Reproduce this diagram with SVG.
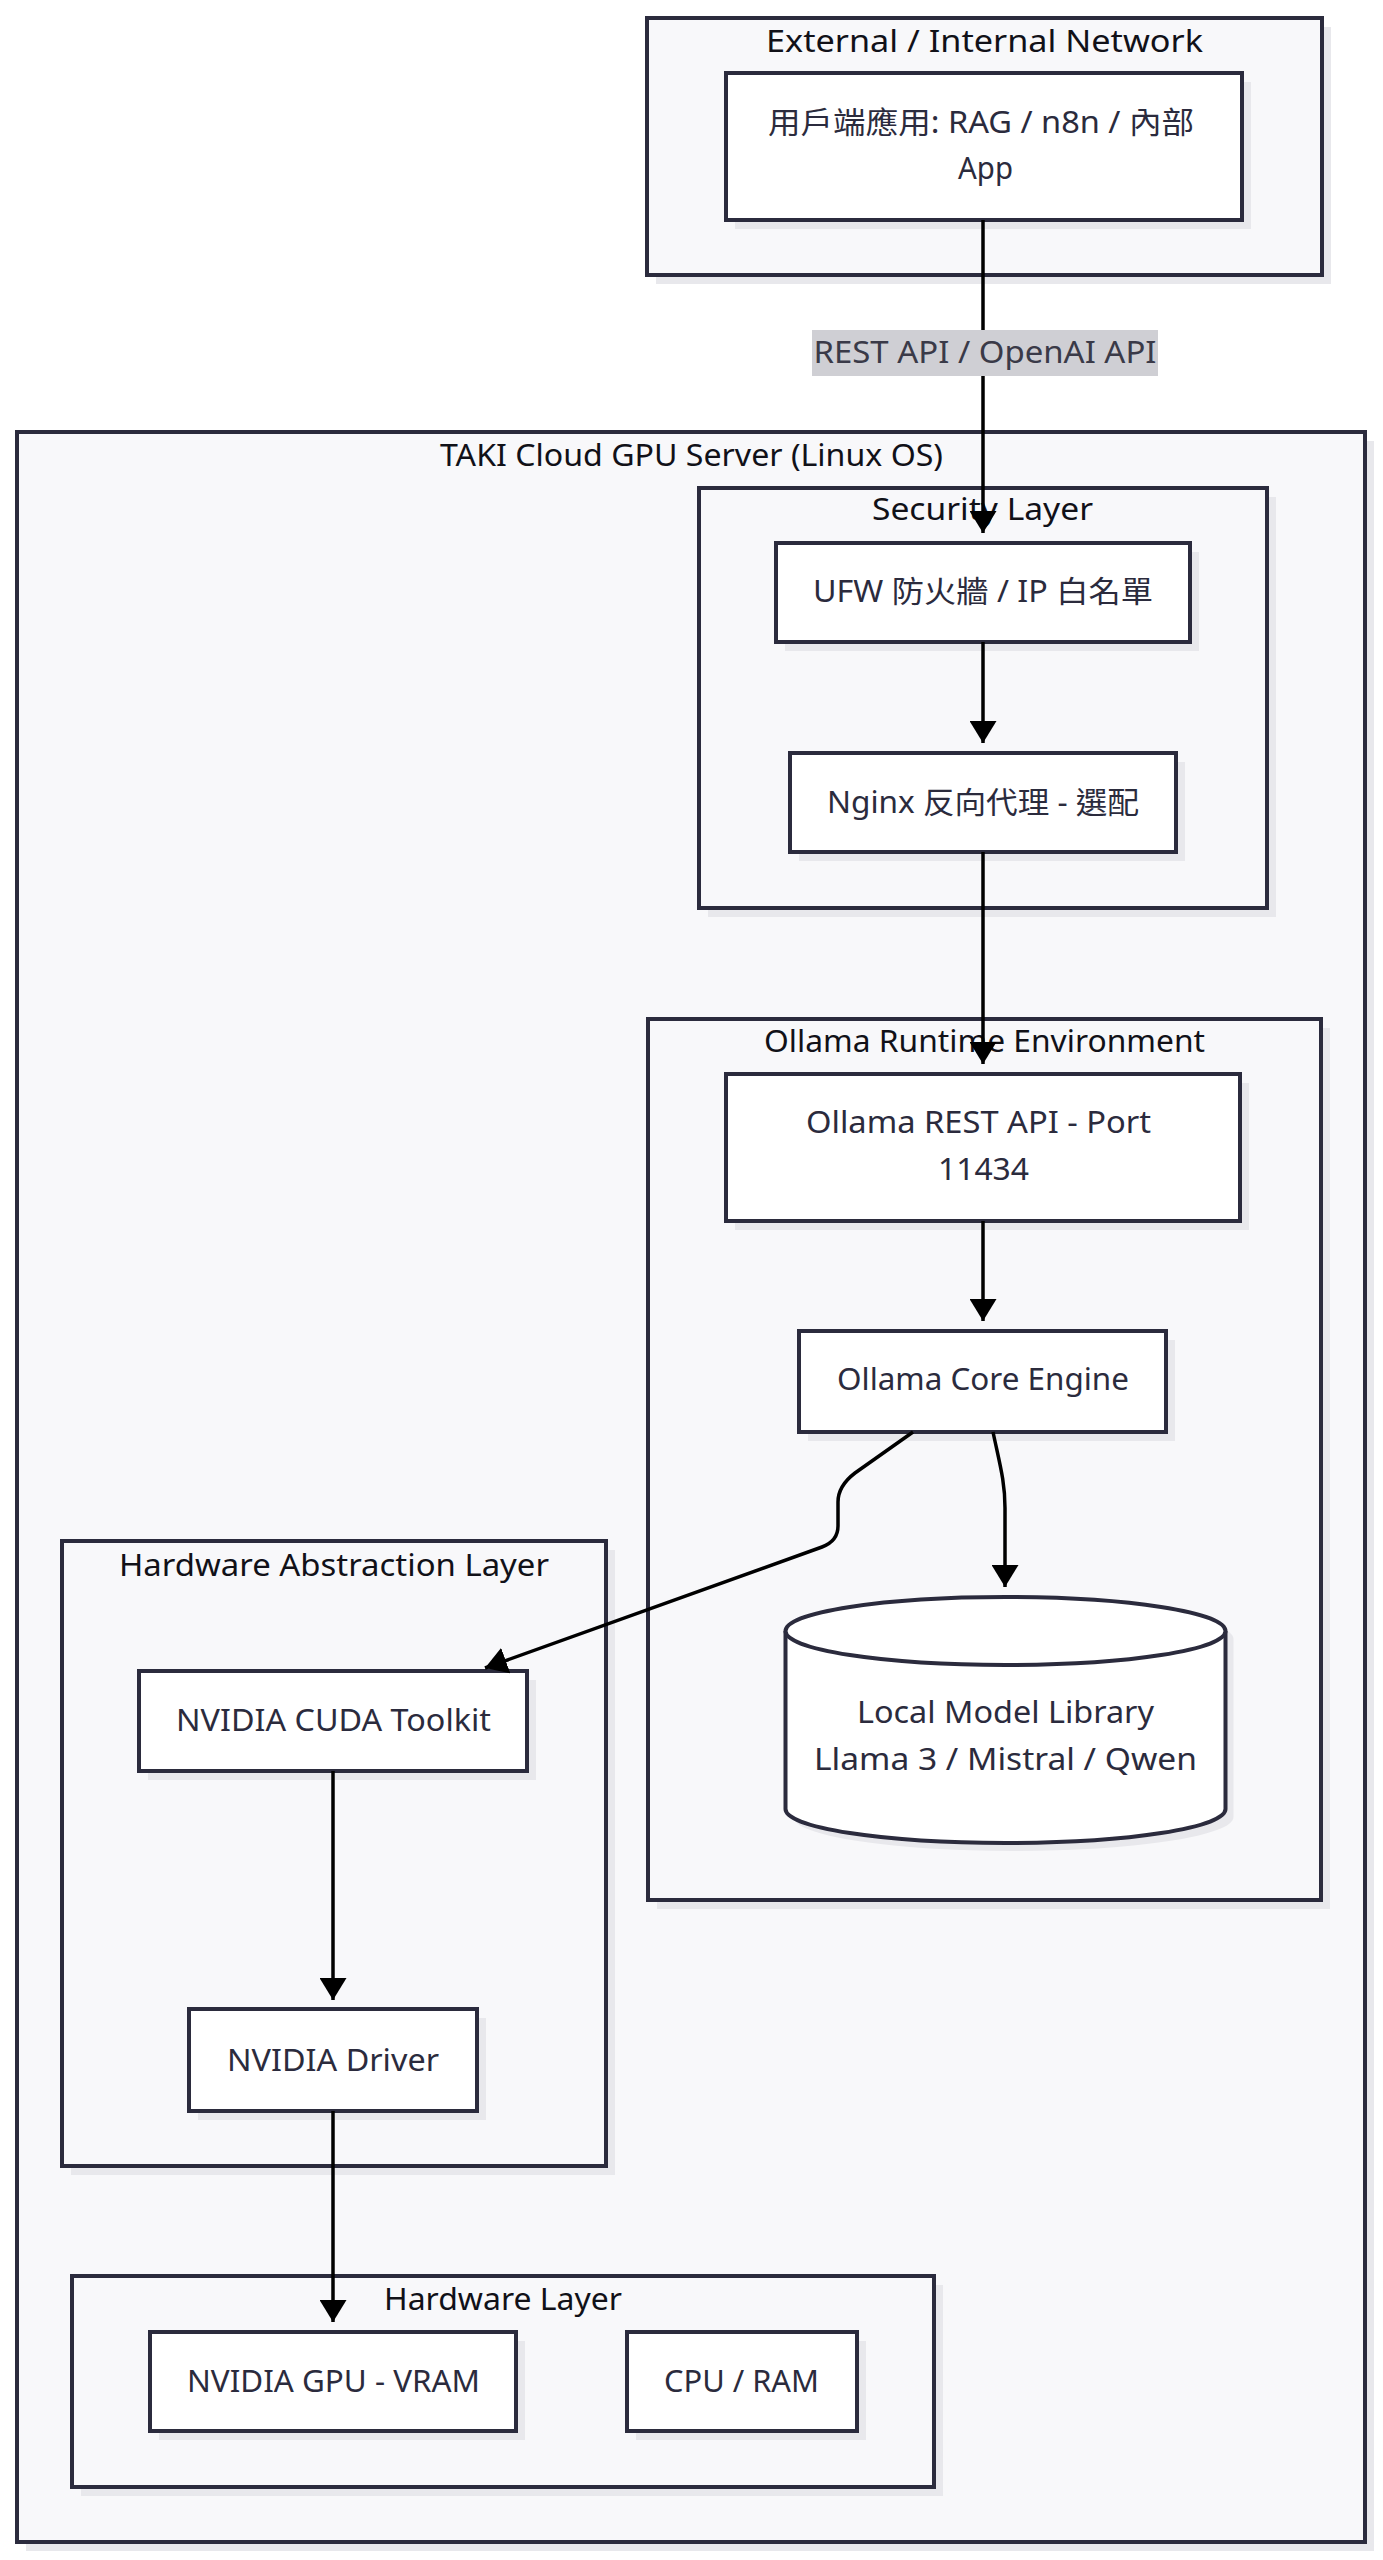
<svg xmlns="http://www.w3.org/2000/svg" width="1383" height="2560" viewBox="0 0 1383 2560">
<defs>
<marker id="arrow" markerUnits="userSpaceOnUse" markerWidth="22" markerHeight="27" refX="22" refY="13.5" orient="auto">
<path d="M0,0 L22,13.5 L0,27 Z" fill="#000"/>
</marker>
<style>
.cluster{fill:#f8f8fa;stroke:#2b2b3d;stroke-width:4}
.node{fill:#ffffff;stroke:#2b2b3d;stroke-width:4}
.shadow{fill:#e8e8ec;stroke:none}
.ctitle{font-family:'Noto Sans','Noto Sans CJK TC',sans-serif;font-size:30px;fill:#111118;text-anchor:middle}
.ntext{font-family:'Noto Sans','Noto Sans CJK TC',sans-serif;font-size:30px;fill:#2b2b3d;text-anchor:middle}
.edge{fill:none;stroke:#000;stroke-width:3.5;marker-end:url(#arrow)}
.lbg{fill:#cfcfd4}
.ltext{font-family:'Noto Sans','Noto Sans CJK TC',sans-serif;font-size:30px;fill:#3a3a48;text-anchor:middle}
</style>
</defs>
<rect width="1383" height="2560" fill="#ffffff"/>

<g id="cluster-external">
<rect class="shadow" x="656" y="27" width="675" height="257"/>
<rect class="cluster" x="647" y="18" width="675" height="257"/>
<text class="ctitle" x="984.5" y="52" textLength="437" lengthAdjust="spacingAndGlyphs">External / Internal Network</text>
</g>

<g id="cluster-server">
<rect class="shadow" x="26" y="441" width="1348" height="2110"/>
<rect class="cluster" x="17" y="432" width="1348" height="2110"/>
<text class="ctitle" x="691.5" y="466" textLength="503" lengthAdjust="spacingAndGlyphs">TAKI Cloud GPU Server (Linux OS)</text>
</g>

<g id="cluster-security">
<rect class="shadow" x="708" y="497" width="568" height="420"/>
<rect class="cluster" x="699" y="488" width="568" height="420"/>
<text class="ctitle" x="982.5" y="520" textLength="221" lengthAdjust="spacingAndGlyphs">Security Layer</text>
</g>

<g id="cluster-ollama">
<rect class="shadow" x="657" y="1028" width="673" height="881"/>
<rect class="cluster" x="648" y="1019" width="673" height="881"/>
<text class="ctitle" x="984.5" y="1052" textLength="441" lengthAdjust="spacingAndGlyphs">Ollama Runtime Environment</text>
</g>

<g id="cluster-hal">
<rect class="shadow" x="71" y="1550" width="544" height="625"/>
<rect class="cluster" x="62" y="1541" width="544" height="625"/>
<text class="ctitle" x="334" y="1576" textLength="430" lengthAdjust="spacingAndGlyphs">Hardware Abstraction Layer</text>
</g>

<g id="cluster-hardware">
<rect class="shadow" x="81" y="2285" width="862" height="211"/>
<rect class="cluster" x="72" y="2276" width="862" height="211"/>
<text class="ctitle" x="503" y="2310" textLength="238" lengthAdjust="spacingAndGlyphs">Hardware Layer</text>
</g>

<g id="node-client">
<rect class="shadow" x="735" y="82" width="516" height="147"/>
<rect class="node" x="726" y="73" width="516" height="147"/>
<text class="ntext" x="981" y="133" textLength="426" lengthAdjust="spacingAndGlyphs">用戶端應用: RAG / n8n / 內部</text>
<text class="ntext" x="985.5" y="179" textLength="55" lengthAdjust="spacingAndGlyphs">App</text>
</g>

<g id="node-ufw">
<rect class="shadow" x="785" y="552" width="414" height="99"/>
<rect class="node" x="776" y="543" width="414" height="99"/>
<text class="ntext" x="983" y="602" textLength="340" lengthAdjust="spacingAndGlyphs">UFW 防火牆 / IP 白名單</text>
</g>

<g id="node-nginx">
<rect class="shadow" x="799" y="762" width="386" height="99"/>
<rect class="node" x="790" y="753" width="386" height="99"/>
<text class="ntext" x="983" y="813" textLength="312" lengthAdjust="spacingAndGlyphs">Nginx 反向代理 - 選配</text>
</g>

<g id="node-restapi">
<rect class="shadow" x="735" y="1083" width="514" height="147"/>
<rect class="node" x="726" y="1074" width="514" height="147"/>
<text class="ntext" x="978.5" y="1133" textLength="345" lengthAdjust="spacingAndGlyphs">Ollama REST API - Port</text>
<text class="ntext" x="983.5" y="1180" textLength="91" lengthAdjust="spacingAndGlyphs">11434</text>
</g>

<g id="node-core">
<rect class="shadow" x="808" y="1340" width="367" height="101"/>
<rect class="node" x="799" y="1331" width="367" height="101"/>
<text class="ntext" x="983" y="1390" textLength="292" lengthAdjust="spacingAndGlyphs">Ollama Core Engine</text>
</g>

<g id="node-library">
<path class="shadow" d="M793.5,1639 L793.5,1817 A220,34 0 0,0 1233.5,1817 L1233.5,1639 A220,34 0 0,0 793.5,1639 Z"/>
<path class="node" d="M785.5,1631 L785.5,1809 A220,34 0 0,0 1225.5,1809 L1225.5,1631 A220,34 0 0,0 785.5,1631 Z"/>
<path class="node" fill="none" d="M785.5,1631 A220,34 0 0,0 1225.5,1631"/>
<text class="ntext" x="1005.5" y="1723" textLength="297" lengthAdjust="spacingAndGlyphs">Local Model Library</text>
<text class="ntext" x="1005.5" y="1770" textLength="383" lengthAdjust="spacingAndGlyphs">Llama 3 / Mistral / Qwen</text>
</g>

<g id="node-cuda">
<rect class="shadow" x="148" y="1680" width="388" height="100"/>
<rect class="node" x="139" y="1671" width="388" height="100"/>
<text class="ntext" x="333.5" y="1731" textLength="315" lengthAdjust="spacingAndGlyphs">NVIDIA CUDA Toolkit</text>
</g>

<g id="node-driver">
<rect class="shadow" x="198" y="2018" width="288" height="102"/>
<rect class="node" x="189" y="2009" width="288" height="102"/>
<text class="ntext" x="333" y="2071" textLength="212" lengthAdjust="spacingAndGlyphs">NVIDIA Driver</text>
</g>

<g id="node-gpu">
<rect class="shadow" x="159" y="2341" width="366" height="99"/>
<rect class="node" x="150" y="2332" width="366" height="99"/>
<text class="ntext" x="333.5" y="2392" textLength="293" lengthAdjust="spacingAndGlyphs">NVIDIA GPU - VRAM</text>
</g>

<g id="node-cpu">
<rect class="shadow" x="636" y="2341" width="230" height="99"/>
<rect class="node" x="627" y="2332" width="230" height="99"/>
<text class="ntext" x="741.5" y="2392" textLength="155" lengthAdjust="spacingAndGlyphs">CPU / RAM</text>
</g>

<g id="connectors">
<path class="edge" d="M983,220 L983,533"/>
<rect class="lbg" x="812" y="330" width="346" height="46"/>
<text class="ltext" x="985" y="363" textLength="343" lengthAdjust="spacingAndGlyphs">REST API / OpenAI API</text>
<path class="edge" d="M983,642 L983,743"/>
<path class="edge" d="M983,852 L983,1064"/>
<path class="edge" d="M983,1221 L983,1321"/>
<path class="edge" d="M913,1432 L855,1473 Q838,1486 838,1502 L838,1526 Q838,1541 822,1547 L485,1668"/>
<path class="edge" d="M993,1432 C1000,1465 1005,1482 1005,1508 L1005,1587"/>
<path class="edge" d="M333,1771 L333,2000"/>
<path class="edge" d="M333,2111 L333,2322"/>
</g>
</svg>
